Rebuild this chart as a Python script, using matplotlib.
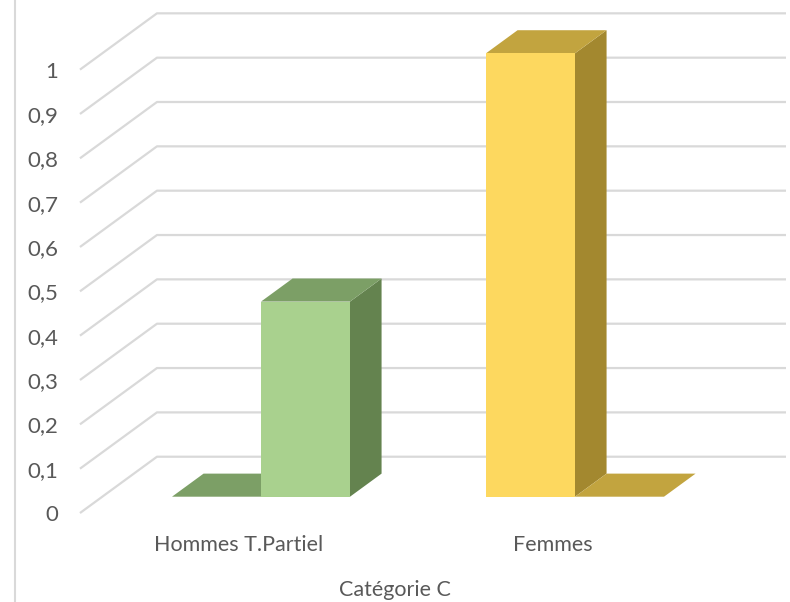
import matplotlib
matplotlib.use("Agg")
import matplotlib.pyplot as plt
from matplotlib.patches import Polygon
from matplotlib.lines import Line2D

# ---- data ----
categories = ["Hommes T.Partiel", "Femmes"]
left_values = [0.0, 1.0]     # left bar of each category
right_values = [0.44, 0.0]   # right bar of each category
y_ticks = [0, 0.1, 0.2, 0.3, 0.4, 0.5, 0.6, 0.7, 0.8, 0.9, 1.0]
y_tick_labels = ["0", "0,1", "0,2", "0,3", "0,4", "0,5", "0,6", "0,7", "0,8", "0,9", "1"]
x_title = "Catégorie C"

# ---- styles ----
cat_colors = [
    {"front": "#A9D18E", "top": "#7C9F66", "side": "#64834F"},
    {"front": "#FDD85F", "top": "#C2A43F", "side": "#A3882F"},
]
grid_color = "#D9D9D9"
text_color = "#595959"
font = "Lato"

W, H = 790, 602
fig = plt.figure(figsize=(W / 100, H / 100), dpi=100)
ax = fig.add_axes([0, 0, 1, 1])
# data x: category index; data y: value
px_per_cat = 314.0
px_per_val = 443.4
x0_px = 261.0          # pixel x of category 0 centre (front plane of bars)
y0_px_from_bottom = 105.3
ax.set_xlim(-x0_px / px_per_cat, (W - x0_px) / px_per_cat)
ax.set_ylim(-y0_px_from_bottom / px_per_val, (H - y0_px_from_bottom) / px_per_val)
ax.axis("off")

# depth vectors (data units)
floor_dx, floor_dy = 77 / px_per_cat, 56.3 / px_per_val
front_frac = 0.29                   # bar front plane position within floor depth
bar_frac = 0.41                     # bar depth as fraction of floor depth
bdx, bdy = bar_frac * floor_dx, bar_frac * floor_dy
fdx, fdy = -front_frac * floor_dx, -front_frac * floor_dy   # offset to front plane
back_dx, back_dy = (1 - front_frac) * floor_dx, (1 - front_frac) * floor_dy

wall_x = (102.3 - x0_px) / px_per_cat   # left wall x at bar plane
right_x = (786 - x0_px) / px_per_cat

# gridlines
for v in y_ticks:
    xs = [wall_x + fdx, wall_x + back_dx, right_x]
    ys = [v + fdy, v + back_dy, v + back_dy]
    ax.plot(xs, ys, color=grid_color, lw=1.6, solid_capstyle="butt", zorder=1)

# y labels
for v, lab in zip(y_ticks, y_tick_labels):
    ax.text(wall_x + fdx - 22 / px_per_cat, v + fdy - 2 / px_per_val, lab, ha="right",
            va="center", fontsize=16, color=text_color, family=font)

bar_w = 89 / px_per_cat


def draw_bar(x, h, col):
    side = [(x + bar_w, 0), (x + bar_w + bdx, bdy), (x + bar_w + bdx, h + bdy), (x + bar_w, h)]
    top = [(x, h), (x + bar_w, h), (x + bar_w + bdx, h + bdy), (x + bdx, h + bdy)]
    if h > 0:
        ax.add_patch(Polygon(side, closed=True, facecolor=col["side"], edgecolor="none", zorder=3))
    ax.add_patch(Polygon(top, closed=True, facecolor=col["top"], edgecolor="none", zorder=3))
    if h > 0:
        ax.add_patch(Polygon([(x, 0), (x + bar_w, 0), (x + bar_w, h), (x, h)], closed=True,
                             facecolor=col["front"], edgecolor="none", zorder=3))


for i, cat in enumerate(categories):
    col = cat_colors[i]
    draw_bar(i - bar_w, left_values[i], col)
    draw_bar(i, right_values[i], col)
    ax.text(i + fdx, -0.109, cat, ha="center", va="center", fontsize=15.5,
            color=text_color, family=font)

fig.text(395 / W, 1 - 590 / H, x_title, ha="center", va="center", fontsize=15.5,
         color=text_color, family=font)

fig.add_artist(Line2D([15 / W, 15 / W], [0, 1], color="#D9D9D9", lw=1.5))

fig.savefig("out.png", dpi=100)
